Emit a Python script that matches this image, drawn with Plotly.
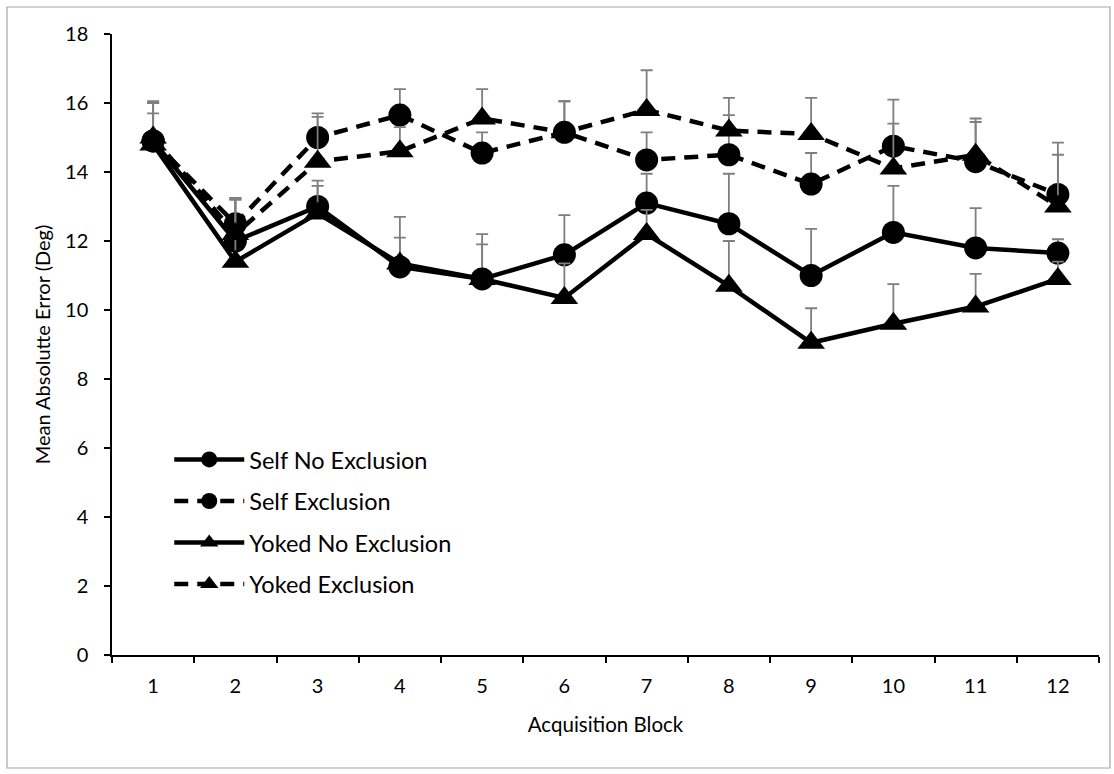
import plotly.graph_objects as go

blocks = ["1", "2", "3", "4", "5", "6", "7", "8", "9", "10", "11", "12"]

self_no_excl = [14.9, 12.0, 13.0, 11.25, 10.9, 11.6, 13.1, 12.5, 11.0, 12.25, 11.8, 11.65]
self_no_excl_err = [1.1, 1.25, 0.75, 1.45, 1.3, 1.15, 0.85, 1.45, 1.35, 1.35, 1.15, 0.4]

self_excl = [14.9, 12.5, 15.0, 15.65, 14.55, 15.15, 14.35, 14.5, 13.65, 14.75, 14.3, 13.35]
self_excl_err = [1.15, 0.75, 0.7, 0.75, 0.6, 0.9, 0.8, 1.15, 0.9, 1.35, 1.25, 1.5]

yoked_no_excl = [14.8, 11.4, 12.8, 11.35, 10.9, 10.35, 12.2, 10.7, 9.05, 9.6, 10.1, 10.9]
yoked_no_excl_err = [0.9, 1.8, 0.8, 0.75, 1.0, 1.0, 0.7, 1.3, 1.0, 1.15, 0.95, 0.5]

yoked_excl = [15.0, 12.2, 14.3, 14.6, 15.55, 15.15, 15.8, 15.2, 15.1, 14.1, 14.5, 13.0]
yoked_excl_err = [1.0, 1.0, 1.3, 0.7, 0.85, 0.9, 1.15, 0.95, 1.05, 1.3, 0.95, 1.5]

series = [
    ("Self No Exclusion", self_no_excl, self_no_excl_err, "solid", "circle", 23),
    ("Self Exclusion", self_excl, self_excl_err, "14px,9px", "circle", 23),
    ("Yoked No Exclusion", yoked_no_excl, yoked_no_excl_err, "solid", "triangle-up", 24),
    ("Yoked Exclusion", yoked_excl, yoked_excl_err, "14px,9px", "triangle-up", 24),
]

fig = go.Figure()
for name, vals, errs, dash, sym, msize in series:
    fig.add_trace(go.Scatter(
        x=blocks, y=vals, name=name, mode="lines+markers",
        legendgroup=name,
        line=dict(color="black", width=4.5, dash=dash),
        marker=dict(symbol=sym, size=msize, color="black"),
        error_y=dict(type="data", symmetric=False, array=errs,
                     arrayminus=[0] * len(errs), color="#7f7f7f",
                     thickness=1.8, width=6),
    ))

font = "Lato, 'Open Sans', sans-serif"
fig.update_layout(
    width=1114, height=774,
    margin=dict(l=112, r=15, t=34, b=119),
    paper_bgcolor="white", plot_bgcolor="white",
    font=dict(family=font, size=20, color="black"),
    showlegend=True,
    legend=dict(x=0.058, y=0.35, xanchor="left", yanchor="top",
                bgcolor="rgba(0,0,0,0)", font=dict(size=23.5, color="black"),
                itemwidth=70, tracegroupgap=8, itemsizing="trace"),
    xaxis=dict(
        type="category", range=[-0.5, 11.5], tickson="boundaries",
        ticks="outside", ticklen=6, tickwidth=1.5, tickcolor="black",
        showline=True, linecolor="black", linewidth=1.5,
        showgrid=False, zeroline=False, ticklabelstandoff=12,
        title=dict(text="Acquisition Block", standoff=22, font=dict(size=20.5)),
    ),
    yaxis=dict(
        range=[0, 18], dtick=2, ticks="outside", ticklen=6, tickwidth=1.5,
        tickcolor="black", showline=True, linecolor="black", linewidth=1.5,
        showgrid=False, zeroline=False, ticklabelstandoff=12,
        title=dict(text="Mean Absolutte Error (Deg)", standoff=9, font=dict(size=20)),
    ),
    shapes=[dict(type="rect", xref="paper", yref="paper",
                 x0=-0.1064, x1=1.0111, y0=-0.182, y1=1.0435,
                 line=dict(color="#a6a6a6", width=1.2), layer="below")],
)

fig.write_html("out.html")
